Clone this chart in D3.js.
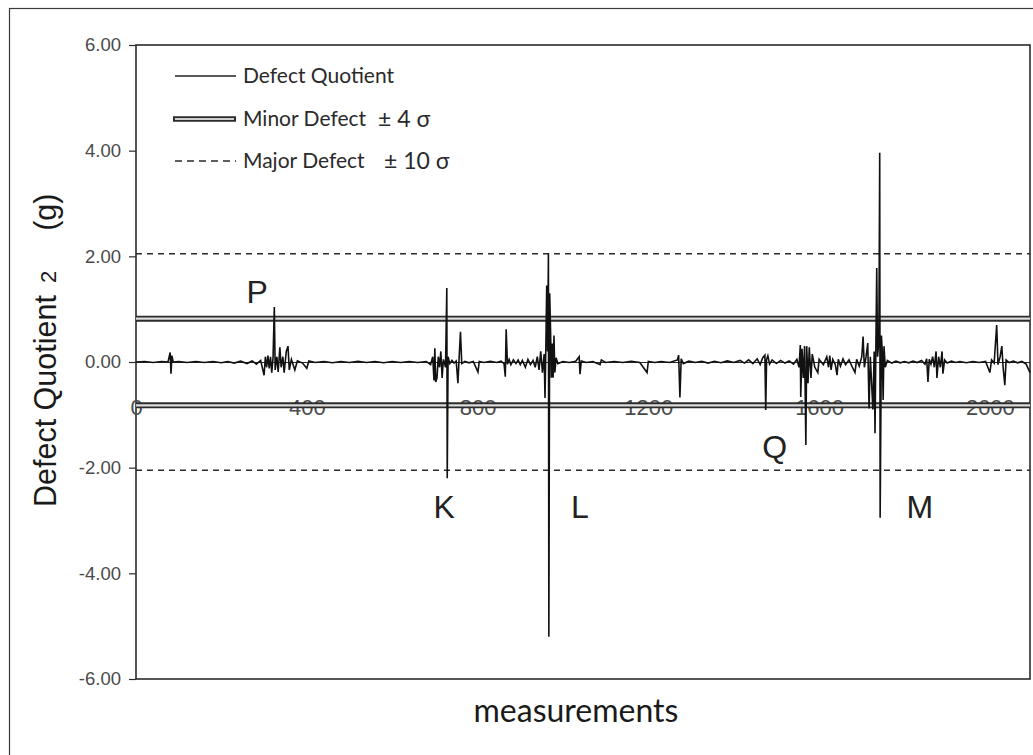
<!DOCTYPE html>
<html>
<head>
<meta charset="utf-8">
<script src="https://cdn.jsdelivr.net/npm/d3@7"></script>
<style>
  html, body { margin: 0; padding: 0; background: #fff; }
  svg { display: block; }
</style>
</head>
<body>
<svg id="chart" width="1033" height="755"></svg>
<script>
// ---------------- data ----------------
const X_TICKS = [0, 400, 800, 1200, 1600, 2000];
const Y_TICKS = [6, 4, 2, 0, -2, -4, -6];
const X_MAX = 2094;
const MINOR_LIMIT = 0.82;   // ±4 sigma
const MAJOR_LIMIT = 2.05;   // ±10 sigma
const LEGEND_NAMES = ["Defect Quotient", "Minor Defect", "Major Defect"];
const LEGEND_SIGMA = ["", "± 4 σ", "± 10 σ"];
const PEAK_NAMES = ["P", "K", "L", "Q", "M"];
const PEAK_X = [284, 722, 1040, 1496, 1836];
const PEAK_Y = [1.12, -2.95, -2.95, -1.82, -2.95];

// measurement index, defect quotient value
const DQ = [
[0,0],[20,0.01],[40,-0.01],[60,0.01],[75,0],[80,0.18],[82,-0.22],[84,0.12],[87,0],[100,0.01],[120,-0.01],[140,0.01],[160,-0.01],[180,0.01],[200,-0.015],[215,0.01],[230,-0.02],[245,0.015],[260,-0.03],[272,0.02],[282,-0.04],[292,0.03],
[300,-0.25],[303,0.1],[306,-0.1],[309,0.12],[312,-0.12],[315,0.1],[318,-0.2],[321,0.08],[324,1.04],[326,-0.15],[330,0.1],[333,-0.19],[337,0.28],[340,-0.1],[344,0.1],[347,-0.2],[352,0.2],[356,0.3],[359,-0.15],[364,0.05],[372,-0.15],[378,0.02],[390,-0.02],[400,-0.12],[405,0.02],
[420,-0.01],[440,0.01],[460,-0.015],[480,0.01],[500,-0.01],[520,0.015],[540,-0.01],[560,0.01],[580,-0.015],[600,0.01],[620,-0.01],[640,0.01],[660,-0.01],[680,0.01],
[690,-0.05],[695,0.1],[698,-0.35],[700,0.26],[702,-0.38],[705,-0.3],[708,0.1],[711,-0.1],[714,0.2],[717,-0.3],[720,0.05],[725,-0.1],[728,1.4],[729,-2.2],[731,0.1],[735,-0.03],[740,0.03],[745,-0.02],[750,0.02],[754,-0.4],[757,0.1],[760,0.57],[763,-0.03],[770,0.01],[780,-0.015],[790,0.01],[801,-0.19],[804,0.01],[815,-0.01],[830,0.015],[845,-0.01],[855,0.015],[862,-0.03],[865,-0.28],[867,0.62],[870,-0.04],[874,0.05],[878,-0.05],[884,0.04],[890,-0.03],[895,0.04],[900,-0.05],[905,0.03],[912,-0.1],[918,0.05],[924,-0.05],[930,0.03],[935,-0.1],[940,0.1],[944,-0.15],[948,0.2],[952,-0.2],[956,0.15],[958,-0.68],[960,0.3],[962,1.45],[964,0.2],[966,2.06],[967,-5.2],[969,1.3],[971,0.6],[973,-0.3],[975,0.35],[977,-0.3],[979,0.5],[981,-0.2],[984,0.08],[988,-0.03],
[1000,0.01],[1015,-0.01],[1030,0.015],[1038,0.1],[1040,-0.23],[1043,0.02],[1055,-0.01],[1070,0.01],[1087,-0.05],[1090,0.04],[1100,-0.01],[1120,0.01],[1140,-0.01],[1160,0.015],[1180,-0.01],[1197,-0.2],[1200,0.01],[1215,-0.01],[1230,0.01],[1250,-0.01],[1268,0.04],[1271,0.13],[1274,-0.67],[1277,0.06],[1282,-0.03],[1295,0.015],[1310,-0.01],[1325,0.015],[1340,-0.02],[1355,0.015],[1370,-0.015],[1385,0.02],[1400,-0.01],[1415,0.03],[1425,-0.02],[1435,0.04],[1445,-0.03],[1455,0.06],[1462,-0.05],[1468,0.08],[1473,0.13],[1475,-0.91],[1477,0.05],[1480,0.12],[1484,-0.04],[1490,0.04],
[1500,-0.03],[1510,0.03],[1520,-0.02],[1530,0.02],[1540,-0.04],[1548,0.05],[1553,-0.1],[1556,0.32],[1557,-0.66],[1560,0.25],[1563,-0.3],[1566,0.3],[1569,-1.57],[1571,0.3],[1574,-0.4],[1577,0.28],[1581,-0.3],[1584,0.15],[1590,-0.1],[1597,-0.2],[1600,0.05],[1610,-0.05],[1618,0.1],[1622,-0.1],[1625,0.12],[1628,-0.15],[1632,0.05],[1638,-0.05],[1642,-0.25],[1645,0.05],[1650,-0.08],[1656,0.06],[1662,-0.05],[1670,0.04],[1678,-0.1],[1684,-0.2],[1688,0.05],[1694,-0.08],[1700,0.1],[1703,0.48],[1706,-0.1],[1710,0.1],[1714,0.36],[1717,-0.88],[1720,0.1],[1726,-0.9],[1729,0.2],[1731,-1.35],[1733,0.3],[1735,1.78],[1737,0.1],[1740,0.4],[1742,3.96],[1743,-2.95],[1746,0.5],[1748,0.2],[1750,-0.72],[1752,0.3],[1755,-0.1],[1760,0.03],
[1770,-0.02],[1780,0.015],[1790,-0.015],[1800,0.01],[1810,-0.015],[1820,0.015],[1830,-0.01],[1840,0.03],[1848,-0.04],[1852,0.06],[1855,-0.38],[1858,0.05],[1862,-0.04],[1866,0.1],[1870,-0.1],[1874,0.2],[1876,-0.3],[1880,0.1],[1884,-0.1],[1888,0.2],[1890,-0.22],[1894,0.04],[1900,-0.02],[1910,0.015],[1920,-0.01],[1930,0.01],[1945,-0.015],[1960,0.01],[1975,-0.01],[1990,0.01],[2000,-0.2],[2004,0.04],[2010,-0.02],[2016,0.7],[2019,-0.05],[2024,0.1],[2028,0.3],[2031,-0.1],[2035,-0.44],[2038,0.04],[2045,-0.01],[2055,0.015],[2065,-0.015],[2075,0.01],[2085,-0.04],[2094,-0.2]
];

// ---------------- layout ----------------
const svg = d3.select("#chart");
const plot = { left: 136, top: 45, right: 1030, bottom: 679 };
const dark = "#2b2b2b";

const x = d3.scaleLinear().domain([0, X_MAX]).range([plot.left, plot.right]);
const y = d3.scaleLinear().domain([-6, 6]).range([plot.bottom, plot.top]);

svg.append("rect").attr("width", 1033).attr("height", 755).attr("fill", "#fff");
// outer chart border
svg.append("rect").attr("x", 9.5).attr("y", 8.5).attr("width", 1060).attr("height", 800)
  .attr("fill", "none").attr("stroke", "#3a3a3a").attr("stroke-width", 1.2);

// plot area
svg.append("rect")
  .attr("x", plot.left).attr("y", plot.top)
  .attr("width", plot.right - plot.left).attr("height", plot.bottom - plot.top)
  .attr("fill", "#fff").attr("stroke", dark).attr("stroke-width", 1.6);

// y axis
const yAxis = svg.append("g")
  .attr("transform", `translate(${plot.left},0)`)
  .call(d3.axisLeft(y).tickValues(Y_TICKS).tickFormat(d3.format(".2f")).tickSize(7).tickPadding(8));
yAxis.select(".domain").remove();
yAxis.selectAll("line").attr("stroke", dark).attr("stroke-width", 1.2);
yAxis.selectAll("text")
  .attr("font-family", "'Liberation Sans', Arial, sans-serif")
  .attr("font-size", 18.5).attr("fill", "#4a4a4a")
  .text(d => d3.format(".2f")(d).replace("−", "-"));

// x axis at zero
const xAxis = svg.append("g")
  .attr("transform", `translate(0,${y(0)})`)
  .call(d3.axisBottom(x).tickValues(X_TICKS).tickFormat(d3.format("d")).tickSize(0));
xAxis.select(".domain").attr("stroke", dark).attr("stroke-width", 1);
xAxis.selectAll("text")
  .attr("y", 45).attr("dy", "0.35em")
  .attr("font-family", "'Liberation Sans', Arial, sans-serif")
  .attr("font-size", 22).attr("fill", "#4a4a4a");

// limit lines
const hline = (v) => [[0, v], [X_MAX, v]];
const lineGen = d3.line().x(d => x(d[0])).y(d => y(d[1]));

[MAJOR_LIMIT, -MAJOR_LIMIT].forEach(v => {
  svg.append("path").attr("d", lineGen(hline(v)))
    .attr("fill", "none").attr("stroke", dark).attr("stroke-width", 1.5)
    .attr("stroke-dasharray", "6,5");
});
[MINOR_LIMIT, -MINOR_LIMIT].forEach(v => {
  svg.append("path").attr("d", lineGen(hline(v)))
    .attr("fill", "none").attr("stroke", dark).attr("stroke-width", 6);
  svg.append("path").attr("d", lineGen(hline(v)))
    .attr("fill", "none").attr("stroke", "#dcdcdc").attr("stroke-width", 2.2);
});

// data series
svg.append("path").datum(DQ)
  .attr("d", lineGen)
  .attr("fill", "none").attr("stroke", "#111").attr("stroke-width", 1.6)
  .attr("stroke-linejoin", "miter");

// peak labels
svg.append("g").selectAll("text").data(PEAK_NAMES).join("text")
  .attr("x", (d, i) => x(PEAK_X[i]))
  .attr("y", (d, i) => y(PEAK_Y[i]))
  .attr("text-anchor", "middle")
  .attr("font-family", "'Liberation Sans', Arial, sans-serif")
  .attr("font-size", 32).attr("fill", "#222")
  .text(d => d);

// legend
const legend = svg.append("g");
const legRowY = [76, 119, 161];
LEGEND_NAMES.forEach((name, i) => {
  const ly = legRowY[i];
  if (i === 0) {
    legend.append("line").attr("x1", 175).attr("x2", 236).attr("y1", ly).attr("y2", ly)
      .attr("stroke", "#222").attr("stroke-width", 1.5);
  } else if (i === 1) {
    legend.append("line").attr("x1", 173).attr("x2", 236).attr("y1", ly).attr("y2", ly)
      .attr("stroke", dark).attr("stroke-width", 5.5);
    legend.append("line").attr("x1", 175).attr("x2", 234).attr("y1", ly).attr("y2", ly)
      .attr("stroke", "#cfcfcf").attr("stroke-width", 2);
  } else {
    legend.append("line").attr("x1", 175).attr("x2", 236).attr("y1", ly).attr("y2", ly)
      .attr("stroke", dark).attr("stroke-width", 1.5).attr("stroke-dasharray", "7,5");
  }
  legend.append("text").attr("x", 243).attr("y", ly).attr("dy", "0.35em")
    .attr("font-family", "Lato, 'Open Sans', sans-serif").attr("font-size", 21)
    .attr("fill", "#2a2a2a").text(name);
  if (LEGEND_SIGMA[i]) {
    legend.append("text").attr("x", i === 1 ? 378 : 384).attr("y", ly).attr("dy", "0.35em")
      .attr("font-family", "Lato, 'Open Sans', sans-serif").attr("font-size", 23)
      .attr("fill", "#2a2a2a").text(LEGEND_SIGMA[i]);
  }
});

// axis titles
const yt = svg.append("text")
  .attr("transform", "translate(56,507) rotate(-90)")
  .attr("font-family", "'Liberation Sans', Arial, sans-serif")
  .attr("font-size", 30.5).attr("fill", "#1a1a1a");
yt.append("tspan").text("Defect Quotient");
yt.append("tspan").attr("dx", 12).attr("font-size", 22).text("2");
yt.append("tspan").attr("dx", 40).text("(g)");

svg.append("text")
  .attr("x", 576).attr("y", 722)
  .attr("text-anchor", "middle")
  .attr("font-family", "Lato, 'Open Sans', sans-serif")
  .attr("font-size", 32).attr("fill", "#1a1a1a")
  .text("measurements");
</script>
</body>
</html>
